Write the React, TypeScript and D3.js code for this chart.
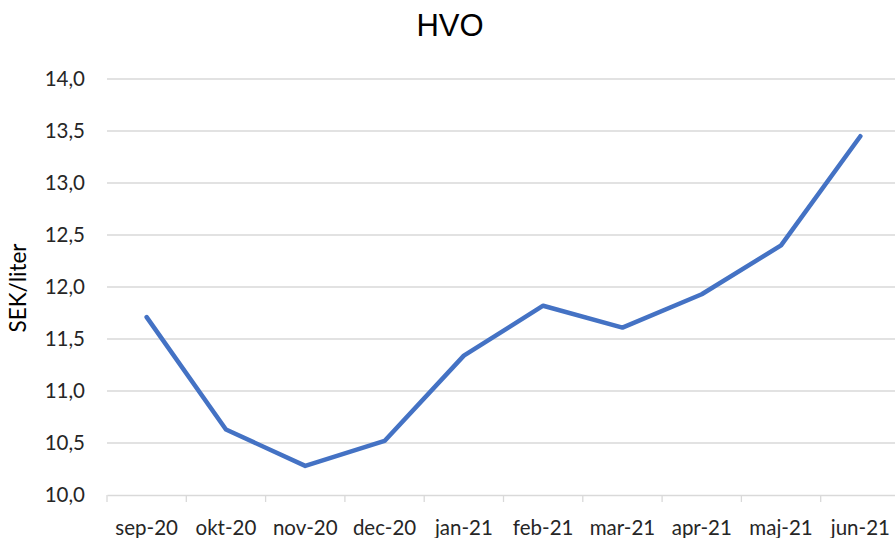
import React, { useEffect, useRef } from 'react';
import * as d3 from 'd3';

const months = ['sep-20', 'okt-20', 'nov-20', 'dec-20', 'jan-21', 'feb-21', 'mar-21', 'apr-21', 'maj-21', 'jun-21'];
const prices = [11.71, 10.63, 10.28, 10.52, 11.34, 11.82, 11.61, 11.93, 12.4, 13.45];
const yTicks = [10, 10.5, 11, 11.5, 12, 12.5, 13, 13.5, 14];

const W = 895, H = 538;
const FONT = 'Lato, Open Sans, sans-serif';

export default function App() {
  const ref = useRef<SVGSVGElement>(null);

  useEffect(() => {
    const svg = d3.select(ref.current);
    svg.selectAll('*').remove();

    const margin = { top: 79, right: -5, bottom: 43, left: 107 };
    const x = d3.scaleBand().domain(months).range([margin.left, W - margin.right]);
    const y = d3.scaleLinear().domain([10, 14]).range([H - margin.bottom, margin.top]);
    const fmt = (v: number) => v.toFixed(1).replace('.', ',');

    // gridlines
    svg.append('g')
      .selectAll('line')
      .data(yTicks.slice(1))
      .enter()
      .append('line')
      .attr('x1', margin.left)
      .attr('x2', W)
      .attr('y1', d => y(d))
      .attr('y2', d => y(d))
      .attr('stroke', '#d9d9d9')
      .attr('stroke-width', 1.3);

    // y labels
    svg.append('g')
      .selectAll('text')
      .data(yTicks)
      .enter()
      .append('text')
      .attr('x', 85)
      .attr('y', d => y(d))
      .attr('dy', '0.35em')
      .attr('text-anchor', 'end')
      .style('font-family', FONT)
      .style('font-size', '20.5px')
      .attr('fill', '#262626')
      .text(d => fmt(d));

    // x axis
    const xAxis = svg.append('g')
      .attr('transform', `translate(0,${y(10)})`)
      .call(d3.axisBottom(x).tickSize(0).tickPadding(25));
    xAxis.select('.domain').attr('stroke', '#d9d9d9').attr('stroke-width', 1.3);
    xAxis.selectAll('text')
      .style('font-family', FONT)
      .style('font-size', '20.5px')
      .attr('fill', '#262626');

    // category separators
    svg.append('g')
      .selectAll('line')
      .data(months)
      .enter()
      .append('line')
      .attr('x1', d => x(d)!)
      .attr('x2', d => x(d)!)
      .attr('y1', y(10))
      .attr('y2', y(10) + 7)
      .attr('stroke', '#d9d9d9')
      .attr('stroke-width', 1.3);

    const line = d3.line<number>()
      .x((d, i) => x(months[i])! + x.bandwidth() / 2)
      .y(d => y(d));

    svg.append('path')
      .datum(prices)
      .attr('d', line)
      .attr('fill', 'none')
      .attr('stroke', '#4472C4')
      .attr('stroke-width', 4.5)
      .attr('stroke-linecap', 'round')
      .attr('stroke-linejoin', 'round');

    svg.append('text')
      .attr('x', 450)
      .attr('y', 36)
      .attr('text-anchor', 'middle')
      .style('font-family', 'Liberation Sans, Arial, sans-serif')
      .style('font-size', '31px')
      .attr('fill', '#000')
      .text('HVO');

    svg.append('text')
      .attr('transform', `translate(26,${(y(10) + y(14)) / 2 + 1}) rotate(-90)`)
      .attr('text-anchor', 'middle')
      .style('font-family', FONT)
      .style('font-size', '22.5px')
      .attr('fill', '#000')
      .text('SEK/liter');
  }, []);

  return (
    <svg ref={ref} width={W} height={H} style={{ position: 'absolute', left: 0, top: 0, background: '#fff' }} />
  );
}
